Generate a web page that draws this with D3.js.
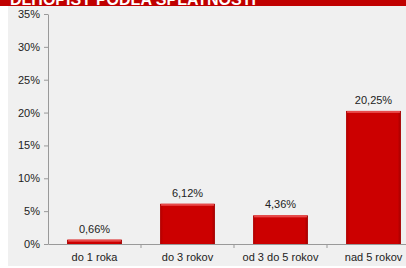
<!DOCTYPE html>
<html>
<head>
<meta charset="utf-8">
<script src="https://d3js.org/d3.v7.min.js"></script>
<style>
  body { margin: 0; background: #fff; }
  svg { display: block; font-family: Arial, "Liberation Sans", sans-serif; }
</style>
</head>
<body>
<div id="chart"></div>
<script>
// chart data
var categories = ["do 1 roka", "do 3 rokov", "od 3 do 5 rokov", "nad 5 rokov"];
var values = [0.66, 6.12, 4.36, 20.25];
var labels = ["0,66%", "6,12%", "4,36%", "20,25%"];
var yTicks = [0, 5, 10, 15, 20, 25, 30, 35];
var title = "DLHOPISY PODĽA SPLATNOSTI";

var width = 406;
var height = 268;

var svg = d3.select("#chart")
  .append("svg")
    .attr("width", width)
    .attr("height", height);

// gradients for the bars
var defs = svg.append("defs");
var grad = defs.append("linearGradient")
  .attr("id", "barGrad")
  .attr("x1", 0).attr("x2", 1).attr("y1", 0).attr("y2", 0);
grad.append("stop").attr("offset", "0%").attr("stop-color", "#b00000");
grad.append("stop").attr("offset", "6%").attr("stop-color", "#cc0000");
grad.append("stop").attr("offset", "94%").attr("stop-color", "#cc0000");
grad.append("stop").attr("offset", "100%").attr("stop-color", "#a00000");

// background panel
svg.append("rect")
  .attr("x", 8)
  .attr("y", 6)
  .attr("width", width - 8)
  .attr("height", 260)
  .attr("fill", "#f0f0f0");

// title band (the title is cropped by the top edge, as in the source)
svg.append("rect")
  .attr("x", 0)
  .attr("y", 0)
  .attr("width", width)
  .attr("height", 6)
  .attr("fill", "#c00000");

svg.append("text")
  .attr("x", 10)
  .attr("y", 5)
  .attr("fill", "#fff")
  .style("font-size", "16px")
  .style("font-weight", "bold")
  .text(title);

var x = d3.scaleBand()
  .domain(categories)
  .range([48, 420])
  .paddingInner(0.41)
  .paddingOuter(0.205);

var y = d3.scaleLinear()
  .domain([0, 35])
  .range([244, 14]);

// y axis
var yAxis = svg.append("g")
  .attr("transform", "translate(48,0)")
  .call(d3.axisLeft(y).tickValues(yTicks).tickFormat(function (d) { return d + "%"; }).tickSize(4).tickSizeOuter(0).tickPadding(4));

// x axis
var xAxis = svg.append("g")
  .attr("transform", "translate(0,244)")
  .call(d3.axisBottom(x).tickSize(0).tickPadding(9));

// boundary ticks between categories
var bandStep = x.step();
var boundaries = [1, 2, 3].map(function (i) { return 48 + i * bandStep; });
xAxis.selectAll(".bound")
  .data(boundaries)
  .enter()
  .append("line")
  .attr("class", "bound")
  .attr("x1", function (d) { return d; })
  .attr("x2", function (d) { return d; })
  .attr("y1", 0)
  .attr("y2", 4)
  .attr("stroke", "#999");

[yAxis, xAxis].forEach(function (g) {
  g.selectAll("path").attr("stroke", "#999");
  g.selectAll("line").attr("stroke", "#999");
  g.selectAll("text")
    .attr("fill", "#222")
    .style("font-size", "11px")
    .style("font-family", "Arial, 'Liberation Sans', sans-serif");
});

// bars
var bars = svg.append("g")
  .selectAll("g")
  .data(values)
  .enter()
  .append("g");

bars.append("rect")
  .attr("x", function (d, i) { return x(categories[i]); })
  .attr("y", function (d) { return y(d); })
  .attr("width", x.bandwidth())
  .attr("height", function (d) { return y(0) - y(d); })
  .attr("fill", "url(#barGrad)");

// top highlight
bars.append("rect")
  .attr("x", function (d, i) { return x(categories[i]) + 1; })
  .attr("y", function (d) { return y(d); })
  .attr("width", x.bandwidth() - 2)
  .attr("height", 2)
  .attr("fill", "#e84a4a");

// value labels
bars.append("text")
  .attr("x", function (d, i) { return x(categories[i]) + x.bandwidth() / 2; })
  .attr("y", function (d) { return y(d) - 7; })
  .attr("text-anchor", "middle")
  .attr("fill", "#222")
  .style("font-size", "11px")
  .text(function (d, i) { return labels[i]; });
</script>
</body>
</html>
